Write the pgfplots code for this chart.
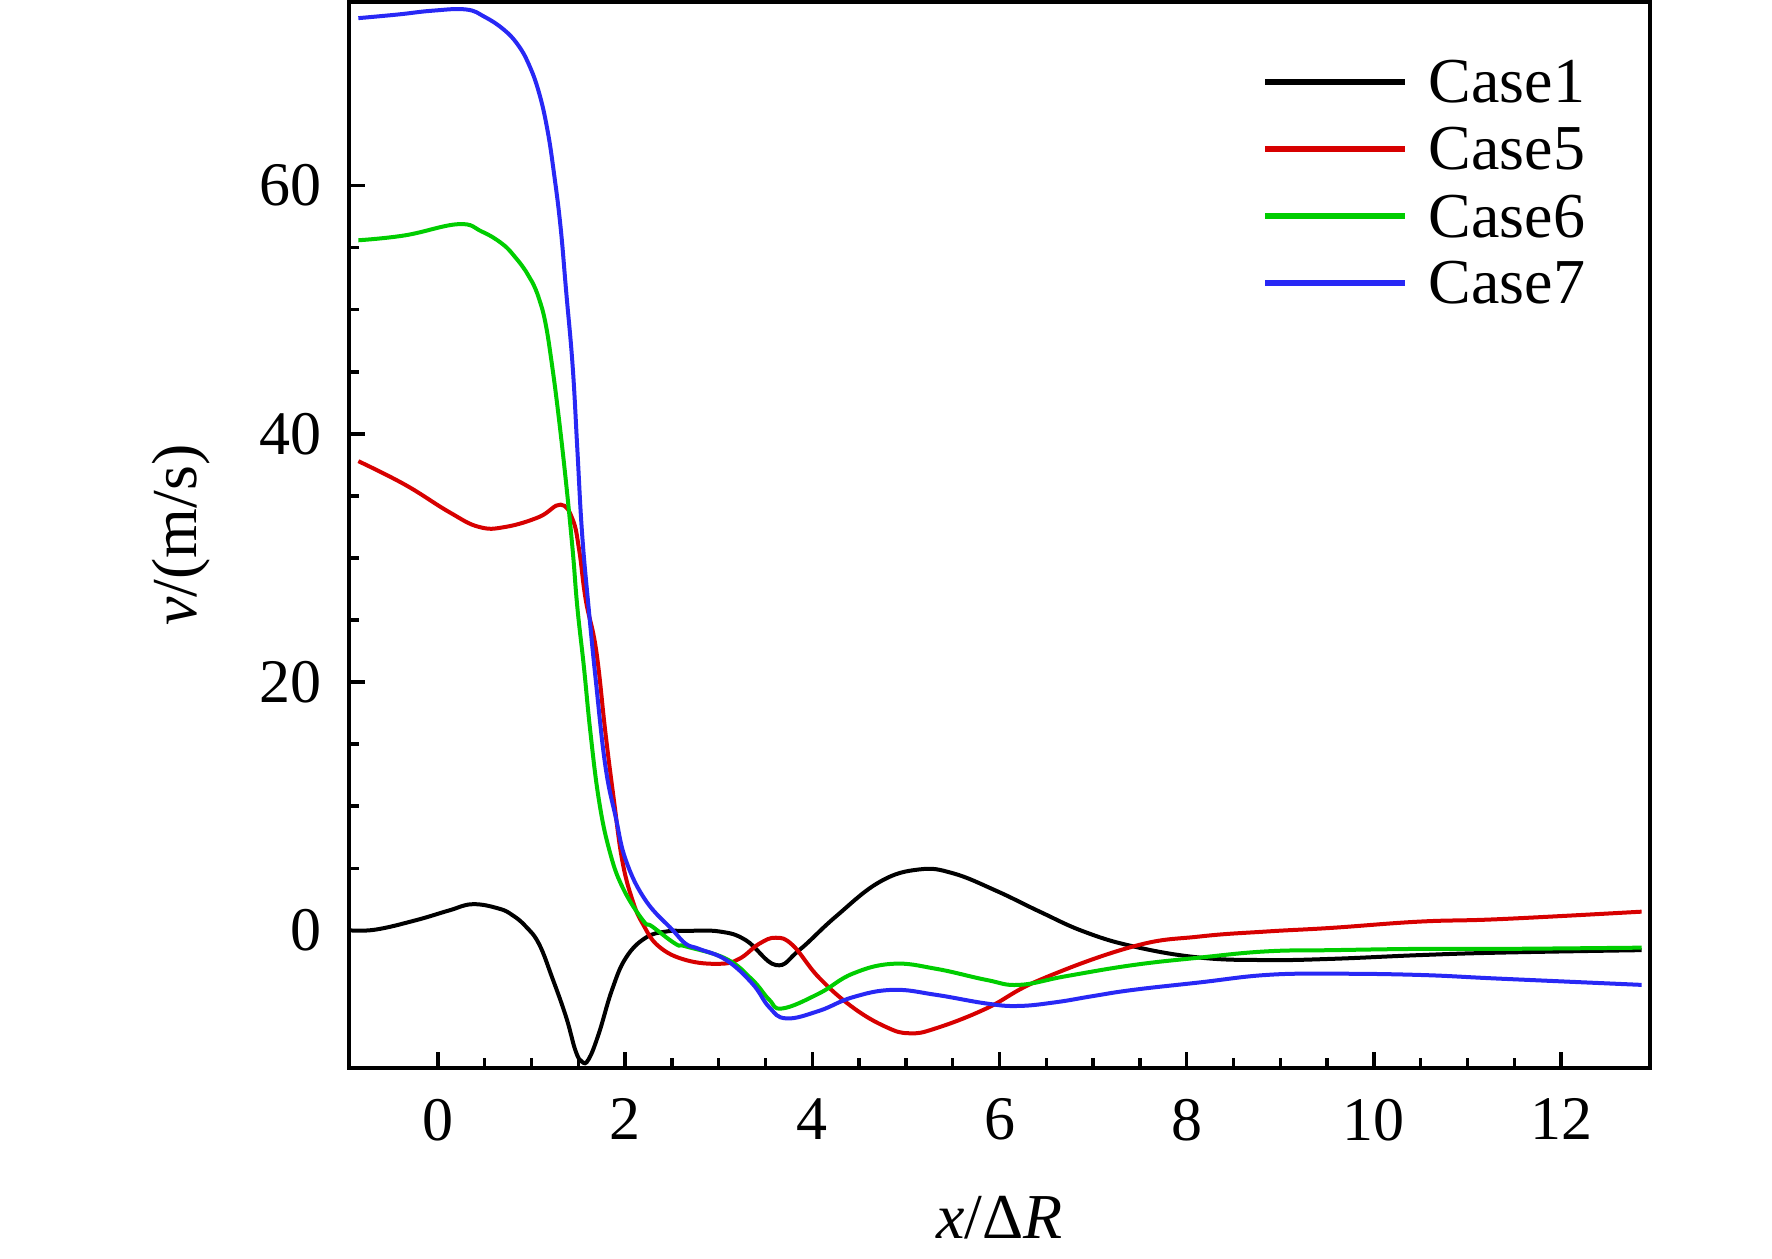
\documentclass[border=0pt]{standalone}
\usepackage{fontspec}
\setmainfont{Liberation Serif}
\usepackage{pgfplots}
\pgfplotsset{compat=1.18}
\definecolor{cRed}{RGB}{215,0,0}
\definecolor{cGreen}{RGB}{0,205,0}
\definecolor{cBlue}{RGB}{40,40,245}
\begin{document}
\begin{tikzpicture}
\begin{axis}[
  at={(0,0)}, anchor=south west,
  scale only axis, width=325.25pt, height=266.5pt,
  xmin=-0.95, xmax=12.95, ymin=-11.1, ymax=74.8,
  axis line style={line width=0.85pt},
  tick style={line width=0.85pt, black},
  major tick length=4pt, minor tick length=2.5pt,
  tick align=inside, tick pos=left,
  xtick={0,2,...,12}, ytick={0,20,40,60},
  minor x tick num=3, minor y tick num=3,
  /pgf/number format/assume math mode=true,
  tick label style={font=\fontsize{15.5}{18}\selectfont},
  yticklabel style={inner sep=0pt, xshift=-6.75pt},
  xticklabel style={inner sep=0pt, yshift=-7.5pt},
  xlabel={\textit{x}/Δ\textit{R}},
  ylabel={\textit{v}/(m/s)},
  xlabel style={at={(axis description cs:0.5,-0.1595)}, anchor=base, inner sep=0pt, font=\fontsize{16}{19}\selectfont},
  ylabel style={at={(axis description cs:-0.1291,0.5)}, anchor=center, inner sep=0pt, font=\fontsize{16}{19}\selectfont},
  legend style={draw=none, fill=none, at={(axis description cs:0.7018,0.9503)}, anchor=north west,
    inner sep=0pt, outer sep=0pt, row sep=3.25pt, column sep=5pt,
    font=\fontsize{16}{19}\selectfont,
    nodes={inner sep=0pt, text height=12pt, text depth=1.5pt}},
  legend cell align=left,
  legend image code/.code={\draw[#1, line width=1.7pt] (0pt,0pt) -- (35pt,0pt);},
  every axis plot/.append style={line width=1.0pt, smooth, tension=0.7},
]
\addplot[black] coordinates {
(-0.95,0) (-0.67,0.05) (-0.24,0.8) (0.12,1.6) (0.37,2.1) (0.65,1.75) (0.80,1.2) (0.94,0.3)
(1.08,-1.1) (1.22,-3.8) (1.37,-7.0) (1.47,-9.7) (1.54,-10.6) (1.61,-10.4)
(1.72,-8.3) (1.86,-4.8) (2.01,-2.2) (2.22,-0.6) (2.44,-0.1) (2.65,-0.05)
(3.01,-0.1) (3.29,-0.8) (3.61,-2.8) (3.86,-1.6) (4.25,1.1) (4.72,3.9)
(5.14,4.9) (5.50,4.6) (5.96,3.2) (6.43,1.5) (6.9,-0.1) (7.43,-1.3)
(8.14,-2.2) (8.85,-2.4) (9.56,-2.3) (10.49,-2.0) (11.35,-1.8) (12.86,-1.6)
};
\addlegendentry{Case1}
\addplot[cRed] coordinates {
(-0.85,37.8) (-0.35,35.9) (0.12,33.7) (0.44,32.5) (0.72,32.5) (1.08,33.3)
(1.31,34.3) (1.44,33.1) (1.51,30.6) (1.58,26.6) (1.69,22.6) (1.79,15.9)
(1.88,10.5) (1.97,5.6) (2.08,2.4) (2.19,0.5) (2.36,-1.3) (2.65,-2.4)
(3.01,-2.7) (3.22,-2.3) (3.43,-1.1) (3.61,-0.6) (3.79,-1.2) (4.07,-3.8)
(4.43,-6.2) (4.79,-7.8) (5.04,-8.3) (5.32,-7.9) (5.86,-6.3) (6.43,-4.0)
(7.43,-1.3) (8.14,-0.5) (8.85,-0.1) (9.56,0.2) (10.49,0.7)
(11.35,0.9) (12.86,1.5)
};
\addlegendentry{Case5}
\addplot[cGreen] coordinates {
(-0.85,55.6) (-0.35,56.0) (0.22,56.9) (0.47,56.3) (0.69,55.3) (0.83,54.2)
(0.94,53.1) (1.01,52.2) (1.08,50.9) (1.15,48.9) (1.22,45.5) (1.29,41.4)
(1.37,36.0) (1.44,30.6) (1.49,26.0) (1.56,21.2) (1.63,15.9) (1.72,10.5)
(1.83,6.5) (1.97,3.5) (2.19,0.8) (2.29,0.3) (2.54,-1.1) (2.65,-1.3)
(3.08,-2.3) (3.36,-4.0) (3.54,-5.6) (3.68,-6.3) (4.07,-5.1) (4.43,-3.5)
(4.86,-2.7) (5.32,-3.1) (5.86,-4.0) (6.21,-4.4) (6.71,-3.7)
(7.43,-2.8) (8.14,-2.2) (8.85,-1.7) (9.56,-1.6) (10.49,-1.5) (11.35,-1.5)
(12.86,-1.4)
};
\addlegendentry{Case6}
\addplot[cBlue] coordinates {
(-0.85,73.5) (-0.42,73.8) (-0.06,74.1) (0.30,74.2) (0.5,73.6) (0.7,72.6)
(0.85,71.4) (0.97,69.8) (1.08,67.5) (1.17,64.5) (1.24,61.0) (1.31,56.7) (1.37,51.5)
(1.44,45.4) (1.49,38.7) (1.54,32.0) (1.61,26.0) (1.69,19.9) (1.79,13.2)
(1.90,9.1) (2.01,5.6) (2.22,2.4) (2.51,0) (2.65,-1.1) (2.79,-1.5)
(3.08,-2.4) (3.36,-4.3) (3.54,-6.2) (3.72,-7.1) (4.07,-6.5) (4.43,-5.4)
(4.86,-4.8) (5.32,-5.2) (5.86,-5.9) (6.2,-6.1) (6.6,-5.8) (7.0,-5.3) (7.43,-4.8)
(8.14,-4.2) (8.85,-3.6) (9.56,-3.5) (10.49,-3.6) (11.35,-3.9) (12.86,-4.4)
};
\addlegendentry{Case7}
\end{axis}
\pgfresetboundingbox
\path[use as bounding box] (-87.25pt,-47.5pt) rectangle (355.75pt,267pt);
\end{tikzpicture}
\end{document}
